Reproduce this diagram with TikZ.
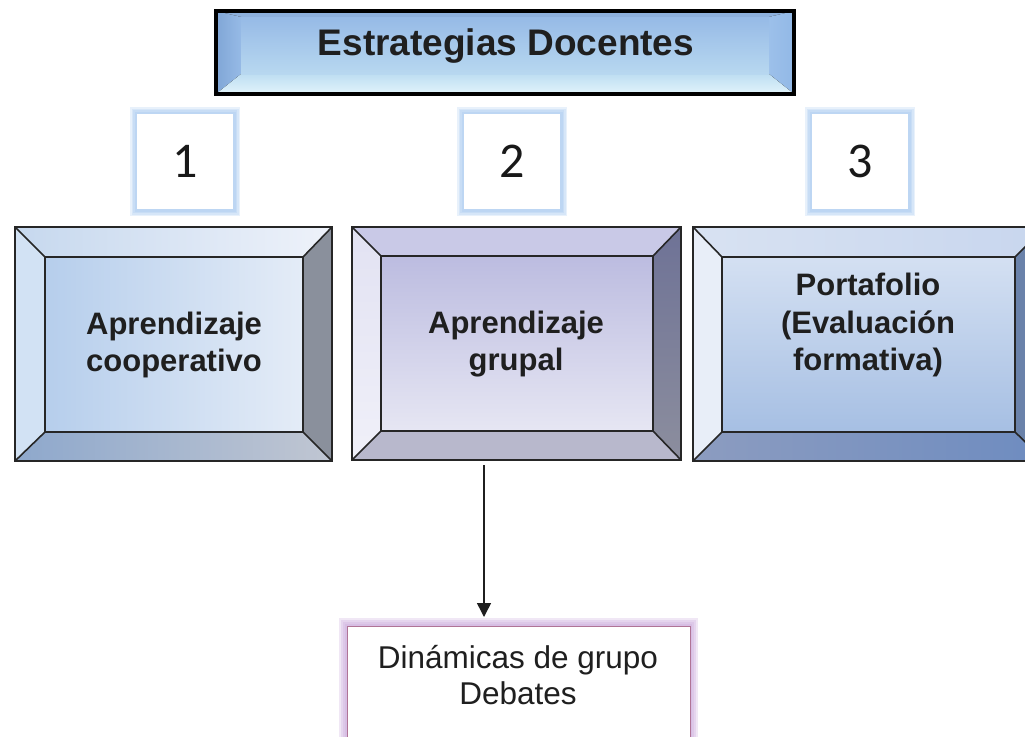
\documentclass[tikz,border=0pt]{standalone}
\usepackage{fontspec}
\setmainfont{Liberation Sans}
\newfontfamily\digitfont{Carlito}
\usetikzlibrary{arrows.meta,calc}
\newcommand\bevbox[9]{%
 \fill[#9top] (#1,#2) -- (#3,#2) -- (#7,#6) -- (#5,#6) -- cycle;
 \fill[#9left] (#1,#2) -- (#5,#6) -- (#5,#8) -- (#1,#4) -- cycle;
 \fill[#9right] (#3,#2) -- (#3,#4) -- (#7,#8) -- (#7,#6) -- cycle;
 \fill[#9bot] (#1,#4) -- (#5,#8) -- (#7,#8) -- (#3,#4) -- cycle;
 \fill[#9face] (#5,#6) rectangle (#7,#8);
}
\newcommand\bevlines[8]{%
 \draw[bevline] (#1,#2) rectangle (#3,#4);
 \draw[bevline] (#5,#6) rectangle (#7,#8);
 \draw[bevline] (#1,#2) -- (#5,#6) (#3,#2) -- (#7,#6) (#1,#4) -- (#5,#8) (#3,#4) -- (#7,#8);
}
\tikzset{
 bevline/.style={draw=black!85, line width=1.6pt, line join=miter},
 Ttop/.style={fill={rgb,255:red,141;green,176;blue,220}},
 Tleft/.style={left color={rgb,255:red,128;green,166;blue,214}, right color={rgb,255:red,150;green,186;blue,230}},
 Tright/.style={left color={rgb,255:red,156;green,192;blue,234}, right color={rgb,255:red,146;green,184;blue,230}},
 Tbot/.style={top color={rgb,255:red,190;green,222;blue,242}, bottom color={rgb,255:red,226;green,244;blue,251}},
 Tface/.style={top color={rgb,255:red,150;green,186;blue,230}, bottom color={rgb,255:red,184;green,216;blue,240}},
 Atop/.style={left color={rgb,255:red,198;green,216;blue,238}, right color={rgb,255:red,238;green,242;blue,250}},
 Aleft/.style={fill={rgb,255:red,210;green,226;blue,244}},
 Aright/.style={fill={rgb,255:red,138;green,144;blue,156}},
 Abot/.style={left color={rgb,255:red,142;green,168;blue,204}, right color={rgb,255:red,192;green,198;blue,210}},
 Aface/.style={left color={rgb,255:red,182;green,206;blue,236}, right color={rgb,255:red,228;green,236;blue,247}},
 Btop/.style={fill={rgb,255:red,201;green,201;blue,231}},
 Bleft/.style={top color={rgb,255:red,226;green,226;blue,242}, bottom color={rgb,255:red,240;green,240;blue,249}},
 Bright/.style={top color={rgb,255:red,110;green,114;blue,150}, bottom color={rgb,255:red,140;green,142;blue,158}},
 Bbot/.style={fill={rgb,255:red,184;green,184;blue,204}},
 Bface/.style={top color={rgb,255:red,188;green,188;blue,224}, bottom color={rgb,255:red,230;green,230;blue,243}},
 Ctop/.style={left color={rgb,255:red,216;green,226;blue,242}, right color={rgb,255:red,200;green,214;blue,238}},
 Cleft/.style={fill={rgb,255:red,232;green,238;blue,248}},
 Cright/.style={fill={rgb,255:red,106;green,130;blue,170}},
 Cbot/.style={left color={rgb,255:red,140;green,156;blue,192}, right color={rgb,255:red,110;green,140;blue,192}},
 Cface/.style={top color={rgb,255:red,212;green,224;blue,242}, bottom color={rgb,255:red,166;green,191;blue,227}},
 frame/.style={inner sep=0pt, outer sep=0pt, minimum width=#1},
 numbox/.style={fill=white, inner sep=0pt, outer sep=0pt, minimum width=96pt, minimum height=95pt, font=\digitfont\fontsize{50}{50}\selectfont, text=black!90},
 bglow/.style={draw={rgb,255:red,150;green,190;blue,236}, line width=#1, opacity=0.22},
 pglow/.style={draw={rgb,255:red,196;green,160;blue,216}, line width=#1, opacity=0.25},
 btext/.style={align=center, font=\bfseries\fontsize{31}{37.5}\selectfont, text=black!88, inner sep=0pt},
 conn/.style={draw=black!88, line width=1.5pt, -{Triangle[width=14pt,length=14pt]}},
}
\begin{document}
\begin{tikzpicture}[x=1pt,y=-1pt]
\useasboundingbox (0,0) rectangle (1025,736);
\clip (0,0) rectangle (1025,736);
% title
\bevbox{216}{11}{794}{94}{241}{17}{769}{74}{T}
\draw[black, line width=3.2pt] (216,11) rectangle (794,94);
\node[font=\bfseries\fontsize{37}{40}\selectfont, text=black!88] (title) at (506,46) {Estrategias Docentes};
% number boxes
\foreach \nm/\cx/\dg in {n1/185/1, n2/512/2, n3/860/3}{
 \foreach \w in {12,9,6,3}{\draw[bglow=\w pt] (\cx-49,113) rectangle (\cx+49,210);}
 \node[numbox] (\nm) at (\cx,161.5) {\dg};
}
% big boxes
\bevbox{15}{227}{332}{461}{45}{257}{303}{432}{A}
\bevlines{15}{227}{332}{461}{45}{257}{303}{432}
\node[frame=317pt, minimum height=234pt] (boxA) at (173.5,344) {};
\node[btext] (tA) at (174,345) {Aprendizaje\\cooperativo};
\bevbox{352}{227}{681}{460}{381}{256}{653}{431}{B}
\bevlines{352}{227}{681}{460}{381}{256}{653}{431}
\node[frame=329pt, minimum height=233pt] (boxB) at (516.5,343.5) {};
\node[btext] (tB) at (516,344) {Aprendizaje\\grupal};
\bevbox{693}{227}{1045}{461}{722}{257}{1015}{432}{C}
\bevlines{693}{227}{1045}{461}{722}{257}{1015}{432}
\node[frame=352pt, minimum height=234pt] (boxC) at (869,344) {};
\node[btext] (tC) at (868,325) {Portafolio\\(Evaluación\\formativa)};
% bottom box
\foreach \w in {16,12,8,4}{\draw[pglow=\w pt] (347,626) rectangle (690,800);}
\node[fill=white, draw={rgb,255:red,176;green,116;blue,150}, line width=1pt, inner sep=0pt, outer sep=0pt, minimum width=343pt, minimum height=174pt] (D) at (518.5,713) {};
\node[align=center, font=\fontsize{31.5}{36}\selectfont, text=black!88, inner sep=0pt] (tD) at (518,675) {Dinámicas de grupo\\Debates};
% connector
\coordinate (s) at ($(boxB.south)+(-32.5,5)$);
\draw[conn, shorten >=9pt] (s) -- (s |- D.north);
\end{tikzpicture}
\end{document}
